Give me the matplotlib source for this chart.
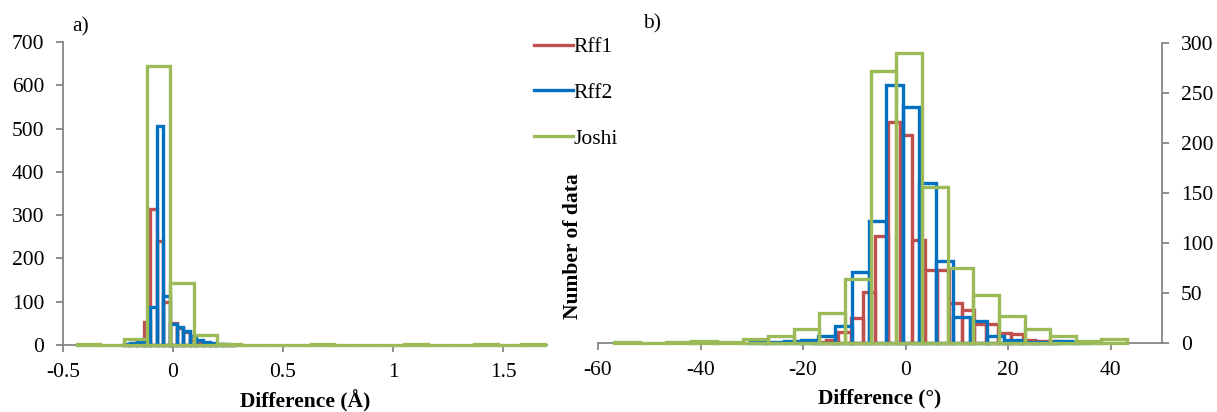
import numpy as np
import matplotlib
matplotlib.use("Agg")
import matplotlib.pyplot as plt
from matplotlib.lines import Line2D

plt.rcParams['font.family'] = ['Liberation Serif', 'DejaVu Serif']
plt.rcParams['axes.unicode_minus'] = False

# colours of the three series (Excel style)
RED = '#C0504D'
BLUE = '#0070C0'
GREEN = '#9BBB59'
GREY = '#868686'

series_names = ["Rff1", "Rff2", "Joshi"]

# ---- panel a: bond length difference (A) ----
a_rff_start = -0.224     # first bin edge for Rff1/Rff2
a_rff_width = 0.03
a_rff1 = [2, 3, 8, 53, 315, 240, 100, 51, 40, 30, 12, 6, 4, 2, 2, 1, 1]
a_rff2 = [3, 5, 6, 8, 88, 505, 113, 48, 42, 32, 21, 12, 8, 4, 3, 2, 1]
a_joshi_start = -0.437
a_joshi_width = 0.1063
a_joshi = [2, 1, 15, 644, 144, 22, 2, 1, 1, 1, 2, 1, 1, 1, 2, 1, 1, 2, 1, 2]

# ---- panel b: angle difference (deg) ----
b_rff1_start = -17.9
b_rff1_width = 2.4
b_rff1 = [1, 3, 11, 25, 51, 107, 221, 208, 103, 73, 73, 40, 33, 19, 19, 10, 9, 3, 2, 2]
b_rff2_start = -30.3
b_rff2_width = 3.3
b_rff2 = [2, 1, 2, 3, 7, 17, 71, 122, 258, 236, 160, 82, 26, 22, 7, 3, 1, 1, 2, 1]
b_joshi_start = -56.8
b_joshi_width = 5.0
b_joshi = [1, 0, 1, 2, 1, 4, 7, 14, 30, 64, 272, 290, 156, 75, 48, 27, 14, 7, 2, 4]

a_xticks = [-0.5, 0, 0.5, 1, 1.5]
a_xticklabels = ["-0.5", "0", "0.5", "1", "1.5"]
a_yticks = [0, 100, 200, 300, 400, 500, 600, 700]
b_xticks = [-60, -40, -20, 0, 20, 40]
b_yticks = [0, 50, 100, 150, 200, 250, 300]

FS = 15.5
LW = 2.4


def outline_hist(ax, start, width, counts, color):
    lefts = start + width * np.arange(len(counts))
    ax.bar(lefts, counts, width=width, align='edge', fill=False,
           edgecolor=color, linewidth=LW, joinstyle='miter',
           zorder=3, clip_on=False)


def style_axis(ax):
    for s in ax.spines.values():
        s.set_color(GREY)
        s.set_linewidth(1.3)
    ax.tick_params(colors=GREY, labelcolor='black', labelsize=FS,
                   direction='out', length=5, width=1.3)
    ax.tick_params(axis='y', pad=8.5)
    ax.tick_params(axis='x', pad=8)


fig = plt.figure(figsize=(12.17, 4.12), dpi=100)

# panel a
axa = fig.add_axes([63 / 1217, 1 - 345 / 412, 484 / 1217, 303 / 412])
outline_hist(axa, a_rff_start, a_rff_width, a_rff1, RED)
outline_hist(axa, a_rff_start, a_rff_width, a_rff2, BLUE)
outline_hist(axa, a_joshi_start, a_joshi_width, a_joshi, GREEN)
axa.set_xlim(-0.5, 1.7)
axa.set_ylim(0, 700)
axa.set_xticks(a_xticks)
axa.set_xticklabels(a_xticklabels)
axa.set_yticks(a_yticks)
axa.spines['top'].set_visible(False)
axa.spines['right'].set_visible(False)
style_axis(axa)
axa.set_xlabel("Difference (Å)", fontsize=FS, fontweight='bold', labelpad=6)

# panel b
axb = fig.add_axes([598 / 1217, 1 - 343 / 412, 564 / 1217, 300 / 412])
outline_hist(axb, b_rff1_start, b_rff1_width, b_rff1, RED)
outline_hist(axb, b_rff2_start, b_rff2_width, b_rff2, BLUE)
outline_hist(axb, b_joshi_start, b_joshi_width, b_joshi, GREEN)
axb.set_xlim(-60, 50)
axb.set_ylim(0, 300)
axb.set_xticks(b_xticks)
axb.set_yticks(b_yticks)
axb.yaxis.tick_right()
axb.spines['top'].set_visible(False)
axb.spines['left'].set_visible(False)
style_axis(axb)
axb.set_xlabel("Difference (°)", fontsize=FS, fontweight='bold', labelpad=6)

fig.text(573 / 1217, 1 - 246 / 412, "Number of data", rotation=90,
         fontsize=FS, fontweight='bold', ha='center', va='center')
fig.text(72 / 1217, 1 - 27 / 412, "a)", fontsize=FS, ha='left', va='center')
fig.text(643 / 1217, 1 - 24 / 412, "b)", fontsize=FS, ha='left', va='center')

handles = [Line2D([], [], color=c, lw=LW) for c in (RED, BLUE, GREEN)]
fig.legend(handles, series_names, loc='upper left',
           bbox_to_anchor=(534 / 1217, 1 - 37 / 412), frameon=False,
           fontsize=FS, handlelength=1.8, handletextpad=0.05,
           labelspacing=1.2, borderpad=0, borderaxespad=0)

fig.savefig("out.png", dpi=100)
